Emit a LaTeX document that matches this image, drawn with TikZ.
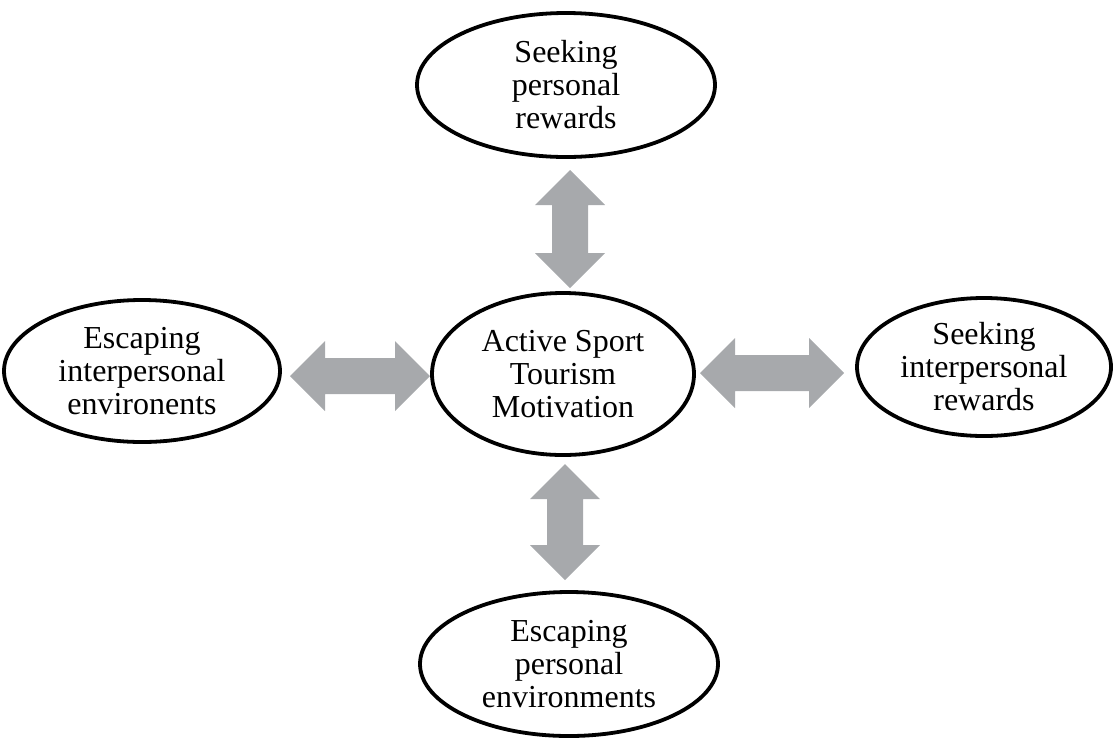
\documentclass[tikz,border=0pt]{standalone}
\usepackage{fontspec}
\setmainfont{Liberation Serif}
\usetikzlibrary{shapes.geometric}
\definecolor{arrowgray}{HTML}{A7A9AC}
\tikzset{
  oval/.style={ellipse, draw=black, line width=3.8pt, inner sep=0pt, align=center,
    font=\fontsize{32}{33}\selectfont},
  pics/fatarrow/.style={code={
    \fill[arrowgray] (-#1,0) -- (-#1+35,35) -- (-#1+35,18) -- (#1-35,18) -- (#1-35,35)
      -- (#1,0) -- (#1-35,-35) -- (#1-35,-18) -- (-#1+35,-18) -- (-#1+35,-35) -- cycle;}}
}
\begin{document}
\begin{tikzpicture}[x=1pt,y=-1pt]
\useasboundingbox (0,0) rectangle (1113,740);
\node[oval, minimum width=262pt, minimum height=162pt] (center) at (563,374) {Active Sport\\Tourism\\Motivation};
\node[oval, minimum width=298pt, minimum height=144pt] (top) at (566,85) {Seeking\\personal\\rewards};
\node[oval, minimum width=298pt, minimum height=144pt] (bottom) at (569,664) {Escaping\\personal\\environments};
\node[oval, minimum width=276pt, minimum height=142pt] (left) at (142,371) {Escaping\\interpersonal\\environents};
\node[oval, minimum width=254pt, minimum height=138pt] (right) at (984,367) {Seeking\\interpersonal\\rewards};
\pic[rotate=90] (atop) at (570,229) {fatarrow=59};
\pic[rotate=90] (abottom) at (565,522) {fatarrow=58};
\pic (aleft) at (360,376) {fatarrow=70};
\pic (aright) at (772,373) {fatarrow=72};
\end{tikzpicture}
\end{document}
